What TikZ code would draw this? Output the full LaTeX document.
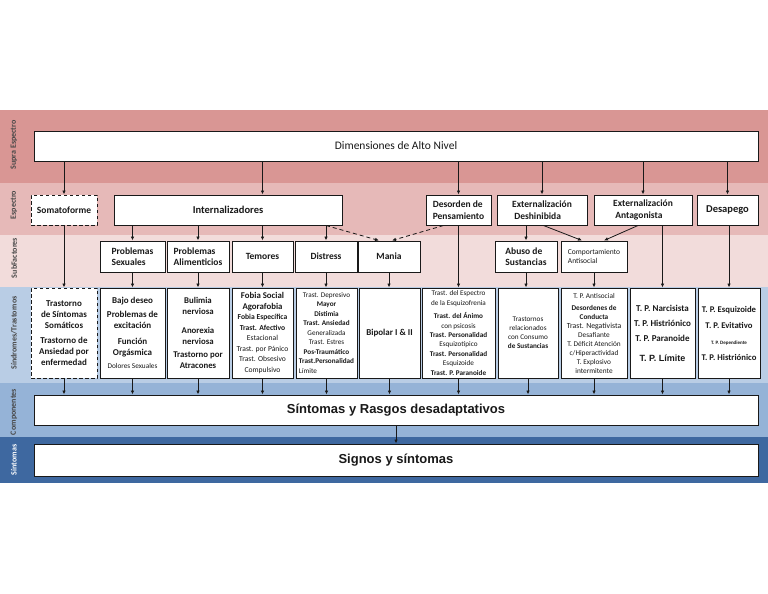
\documentclass[tikz,border=0pt]{standalone}
\usepackage{fontspec}
\usepackage{calc}
\setmainfont{Carlito}
\newfontfamily\arialf{Liberation Sans}
\usetikzlibrary{arrows.meta}
\definecolor{bSupra}{HTML}{D99694}
\definecolor{bEsp}{HTML}{E6B9B8}
\definecolor{bSub}{HTML}{F2DCDB}
\definecolor{bSind}{HTML}{B9CDE5}
\definecolor{bComp}{HTML}{95B3D7}
\definecolor{bSint}{HTML}{3E68A0}
\newcommand\fsz[2]{\fontsize{#1}{#2}\selectfont}
\begin{document}
\begin{tikzpicture}[x=1pt,y=-1pt,
  box/.style={draw=black!90,fill=white,line width=1pt,inner sep=0pt,align=center,text=black!90,font=\bfseries\fsz{9.5}{11.5}},
  dbox/.style={box,dash pattern=on 3.5pt off 2.5pt},
  esp/.style={box,minimum height=30pt},
  sub/.style={box,minimum height=31pt},
  syn/.style={box,minimum height=90pt},
  arr/.style={draw=black!90,line width=0.8pt,-{Latex[length=4pt,width=3.5pt]}},
  darr/.style={arr,dash pattern=on 4pt off 3pt},
  bandlbl/.style={font=\bfseries\fsz{8}{9},text=black!72,rotate=90}]
\useasboundingbox (0,0) rectangle (768,594);
\fill[white] (0,0) rectangle (768,594);
% bands
\fill[bSupra] (0,110) rectangle (768,183);
\fill[bEsp] (0,183) rectangle (768,235);
\fill[bSub] (0,235) rectangle (768,287);
\fill[bSind] (0,287) rectangle (768,383);
\fill[bComp] (0,383) rectangle (768,437);
\fill[bSint] (0,437) rectangle (768,483);
\node[bandlbl] (lSupra) at (14,145) {Supra Espectro};
\node[bandlbl] (lEsp) at (14,205) {Espectro};
\node[bandlbl] (lSub) at (14,258) {SubFactores};
\node[bandlbl] (lSind) at (14,333) {Síndromes/Trastornos};
\node[bandlbl] (lComp) at (14,412) {Componentes};
\node[bandlbl,text=white] (lSint) at (14,460) {Síntomas};
% top
\node[box,font=\fsz{11.5}{13},minimum width=724pt,minimum height=30pt] (dim) at (396,146) {Dimensiones de Alto Nivel};
% espectro
\node[esp,dbox,minimum width=66pt] (soma) at (64,210) {Somatoforme};
\node[esp,font=\bfseries\fsz{10.5}{12},minimum width=228pt] (intern) at (228,210) {Internalizadores};
\node[esp,align=left,minimum width=65pt] (desord) at (458.5,210) {Desorden de\\Pensamiento};
\node[esp,align=left,minimum width=90pt] (extd) at (542,210) {Externalización\\\ Deshinibida};
\node[esp,align=left,minimum width=98pt] (exta) at (643,210) {Externalización\\\ Antagonista};
\node[esp,font=\bfseries\fsz{10.5}{12},minimum width=61pt] (desap) at (727.5,210) {Desapego};
% subfactores
\node[sub,align=left,minimum width=65pt] (psex) at (132.5,256.5) {Problemas\\Sexuales};
\node[sub,align=left,minimum width=62pt] (palim) at (198,256.5) {Problemas\\Alimenticios};
\node[sub,minimum width=61pt] (temor) at (262.5,256.5) {Temores};
\node[sub,minimum width=62pt] (distr) at (326,256.5) {Distress};
\node[sub,minimum width=62pt] (mania) at (389,256.5) {Mania};
\node[sub,align=left,minimum width=62pt] (abuso) at (526,256.5) {Abuso de\\Sustancias};
\node[sub,align=left,font=\fsz{7.5}{9.5},minimum width=66pt] (compa) at (594,256.5) {Comportamiento\\Antisocial};
% sindromes
\node[syn,dbox,font=\bfseries\fsz{9}{11},minimum width=66pt] (s1) at (64,333) {Trastorno\\de Síntomas\\Somáticos\\[4pt]Trastorno de\\Ansiedad por\\enfermedad};
\node[syn,font=\bfseries\fsz{9}{11},minimum width=65pt] (s2) at (132.5,333) {Bajo deseo\\[3pt]Problemas de\\excitación\\[5pt]Función\\Orgásmica\\[2pt]{\mdseries\fsz{7.3}{8}Dolores Sexuales}};
\node[syn,font=\bfseries\fsz{8.8}{11},minimum width=62pt] (s3) at (198,333) {Bulimia\\nerviosa\\[8pt]Anorexia\\nerviosa\\[2pt]Trastorno por\\Atracones};
\node[syn,font=\bfseries\fsz{7.6}{10.5},minimum width=61pt] (s4) at (262.5,333) {{\fsz{8.8}{10}Fobia Social}\\{\fsz{8.8}{10}Agorafobia}\\Fobia Específica\\Trast. Afectivo\\{\mdseries Estacional}\\{\mdseries Trast. por Pánico}\\{\mdseries Trast. Obsesivo}\\{\mdseries Compulsivo}};
\node[syn,font=\bfseries\fsz{7.2}{9.5},minimum width=61pt] (s5) at (326.5,333) {{\mdseries Trast. Depresivo}\\Mayor\\Distimia\\Trast. Ansiedad\\{\mdseries Generalizada}\\{\mdseries Trast. Estres}\\Pos-Traumático\\Trast.Personalidad\\\makebox[\widthof{Trast.Personalidad}][l]{\mdseries Límite}};
\node[syn,font=\bfseries\fsz{9}{11},minimum width=61pt] (s6) at (389.5,333) {Bipolar I \& II};
\node[syn,font=\bfseries\fsz{7.2}{9.4},minimum width=73pt] (s7) at (458.5,333) {{\mdseries Trast. del Espectro}\\{\mdseries de la Esquizofrenia}\\[4pt]Trast. del Ánimo\\{\mdseries con psicosis}\\Trast. Personalidad\\{\mdseries Esquizotípico}\\Trast. Personalidad\\{\mdseries Esquizoide}\\Trast. P. Paranoide};
\node[syn,font=\fsz{7.2}{9},minimum width=60pt] (s8) at (528,333) {Trastornos\\relacionados\\con Consumo\\\textbf{de Sustancias}};
\node[syn,font=\fsz{7.3}{9},minimum width=66pt] (s9) at (594,333) {T. P. Antisocial\\[3pt]\textbf{Desordenes de}\\\textbf{Conducta}\\{\fsz{7.8}{9}Trast. Negativista}\\Desafiante\\T. Déficit Atención\\c/Hiperactividad\\T. Explosivo\\intermitente};
\node[syn,font=\bfseries\fsz{9}{15},minimum width=65pt] (s10) at (662.5,333) {T. P. Narcisista\\T. P. Histriónico\\T. P. Paranoide\\[5pt]{\arialf\fsz{9}{10}T. P. Límite}};
\node[syn,font=\bfseries\fsz{8.7}{16},minimum width=62pt] (s11) at (729,333) {T. P. Esquizoide\\T. P. Evitativo\\{\fsz{5}{6}T. P. Dependiente}\\T. P. Histriónico};
% bottom
\node[box,font=\arialf\bfseries\fsz{13}{15},minimum width=724pt,minimum height=30pt] (sr) at (396,410) {Síntomas y Rasgos desadaptativos};
\node[box,font=\arialf\bfseries\fsz{13}{15},minimum width=724pt,minimum height=32pt] (sig) at (396,460) {Signos y síntomas};
% arrows top
\draw[arr] (dim.south -| soma) -- (soma);
\draw[arr] (dim.south -| temor) -- (intern.north -| temor);
\draw[arr] (dim.south -| desord) -- (desord);
\draw[arr] (dim.south -| extd) -- (extd);
\draw[arr] (dim.south -| exta) -- (exta);
\draw[arr] (dim.south -| desap) -- (desap);
% espectro -> subfactores
\draw[arr] (intern.south -| psex) -- (psex);
\draw[arr] (intern.south -| palim) -- (palim);
\draw[arr] (intern.south -| temor) -- (temor);
\draw[arr] (intern.south -| distr) -- (distr);
\draw[darr] (intern.south -| distr) -- ([xshift=-10pt]mania.north);
\draw[darr] ([xshift=-15pt]desord.south) -- ([xshift=3pt]mania.north);
\draw[arr] (extd.south -| abuso) -- (abuso);
\draw[arr] ([xshift=1.5pt]extd.south) -- ([xshift=-12pt]compa.north);
\draw[arr] ([xshift=-5pt]exta.south) -- ([xshift=10pt]compa.north);
% to sindromes
\draw[arr] (soma) -- (s1);
\draw[arr] (psex) -- (s2);
\draw[arr] (palim) -- (s3);
\draw[arr] (temor) -- (s4);
\draw[arr] (distr) -- (distr |- s5.north);
\draw[arr] (mania) -- (mania |- s6.north);
\draw[arr] (desord.south -| s7) -- (s7);
\draw[arr] (abuso) -- (abuso |- s8.north);
\draw[arr] (compa) -- (compa |- s9.north);
\draw[arr] (exta.south -| s10) -- (s10);
\draw[arr] (desap.south -| s11) -- (s11);
% to components
\foreach \n in {s1,s2,s3,s4,s5,s6,s7,s8,s9,s10,s11}
  \draw[arr] (\n) -- (\n |- sr.north);
\draw[arr] (sr) -- (sig);
\end{tikzpicture}
\end{document}
